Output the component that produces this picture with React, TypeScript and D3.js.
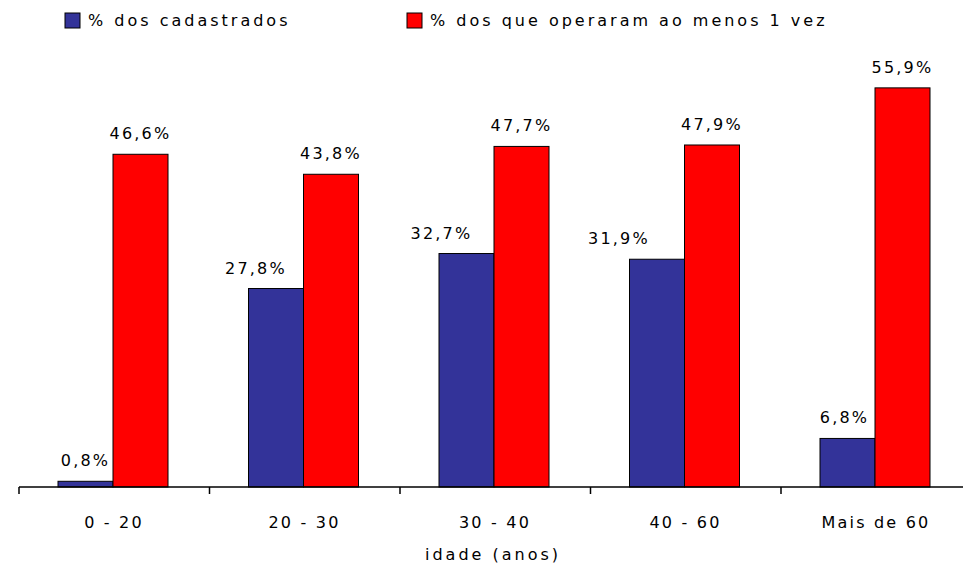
import * as d3 from 'd3';

const categories = ['0 - 20', '20 - 30', '30 - 40', '40 - 60', 'Mais de 60'];
const seriesNames = ['% dos cadastrados', '% dos que operaram ao menos 1 vez'];
const cadastrados = [0.8, 27.8, 32.7, 31.9, 6.8];
const operaram = [46.6, 43.8, 47.7, 47.9, 55.9];
const colors = ['#333399', '#ff0000'];
// excel nudged some of the blue labels to the left
const blueLabelShift = [0, -20, -25, -38, -3];

const width = 963;
const height = 571;
const font = '"DejaVu Sans", Verdana, sans-serif';

export default function App() {
  const baseY = 487;
  const x0 = d3.scaleBand().domain(categories).range([19, 19 + 5 * 190.5]);
  const x1 = d3.scaleBand().domain(seriesNames).range([39, 149]);
  const y = d3.scaleLinear().domain([0, 60]).range([baseY, baseY - 60 * 7.14]);
  const fmt = (v: number) => v.toFixed(1).replace('.', ',') + '%';
  const series = [cadastrados, operaram];

  const ticks = categories.map((c) => x0(c)!).concat([x0(categories[4])! + x0.bandwidth()]);

  return (
    <svg
      width={width}
      height={height}
      style={{ position: 'absolute', left: 0, top: 0, background: '#fff' }}
      fontFamily={font}
    >
      {/* legend */}
      {seriesNames.map((s, i) => {
        const lx = i === 0 ? 65 : 407;
        return (
          <g key={s}>
            <rect x={lx} y={13} width={15} height={15} fill={colors[i]} stroke="#000" strokeWidth={1} />
            <text x={lx + 23} y={26} fontSize={16} letterSpacing={3} fill="#000">
              {s}
            </text>
          </g>
        );
      })}

      {/* bars */}
      {categories.map((c, ci) =>
        seriesNames.map((s, si) => {
          const v = series[si][ci];
          const bx = x0(c)! + x1(s)!;
          return (
            <g key={c + s}>
              <rect
                x={bx}
                y={y(v)}
                width={x1.bandwidth()}
                height={baseY - y(v)}
                fill={colors[si]}
                stroke="#000"
                strokeWidth={1}
              />
              <text
                x={bx + x1.bandwidth() / 2 + (si === 0 ? blueLabelShift[ci] : 0)}
                y={y(v) - 15}
                textAnchor="middle"
                fontSize={16}
                letterSpacing={2.2}
                fill="#000"
              >
                {fmt(v)}
              </text>
            </g>
          );
        })
      )}

      {/* axis */}
      <line x1={19} x2={width} y1={baseY} y2={baseY} stroke="#000" strokeWidth={1.5} />
      {ticks.map((t, i) => (
        <line key={i} x1={t} x2={t} y1={baseY} y2={baseY + 7} stroke="#000" strokeWidth={1.5} />
      ))}
      {categories.map((c) => (
        <text
          key={c}
          x={x0(c)! + 95}
          y={528}
          textAnchor="middle"
          fontSize={16}
          letterSpacing={2.2}
          fill="#000"
        >
          {c}
        </text>
      ))}
      <text x={493} y={560} textAnchor="middle" fontSize={16} letterSpacing={3} fill="#000">
        idade (anos)
      </text>
    </svg>
  );
}
